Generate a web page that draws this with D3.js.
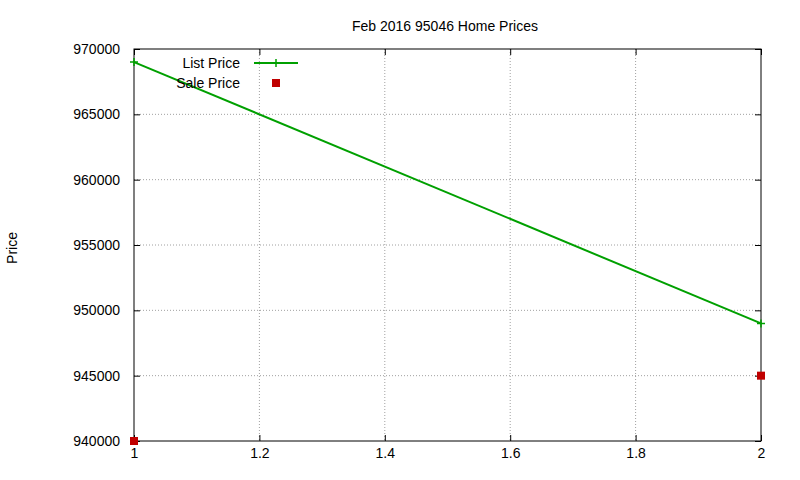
<!DOCTYPE html>
<html><head><meta charset="utf-8">
<script src="https://cdn.jsdelivr.net/npm/d3@7"></script>
<style>body{margin:0;background:#fff}text{font-family:"Liberation Sans",Arial,sans-serif}</style>
</head><body>
<svg id="chart" width="800" height="480"></svg>
<script>
var xVals = [1, 2]
var listPrice = [969000, 949000]
var salePrice = [940000, 945000]
var xTicks = [1, 1.2, 1.4, 1.6, 1.8, 2]
var yTicks = [940000, 945000, 950000, 955000, 960000, 965000, 970000]

var svg = d3.select('#chart')
var pLeft = 134, pRight = 761, pTop = 49, pBottom = 441
var x = d3.scaleLinear().domain([1, 2]).range([pLeft, pRight])
var y = d3.scaleLinear().domain([940000, 970000]).range([pBottom, pTop])

// grid
svg.selectAll('.gx').data(xTicks.slice(1, -1)).enter().append('line')
	.attr('x1', x).attr('x2', x).attr('y1', pTop).attr('y2', pBottom)
	.attr('stroke', '#a0a0a0').attr('stroke-dasharray', '1,2')
svg.selectAll('.gy').data(yTicks.slice(1, -1)).enter().append('line')
	.attr('y1', y).attr('y2', y).attr('x1', pLeft).attr('x2', pRight)
	.attr('stroke', '#a0a0a0').attr('stroke-dasharray', '1,2')

// axes (ticks inward, mirrored)
var xb = svg.append('g').attr('transform', 'translate(0,' + pBottom + ')')
	.call(d3.axisBottom(x).tickValues(xTicks).tickSizeInner(-6).tickSizeOuter(0).tickPadding(14).tickFormat(d3.format('')))
svg.append('g').attr('transform', 'translate(' + pLeft + ',0)')
	.call(d3.axisLeft(y).tickValues(yTicks).tickSizeInner(-6).tickSizeOuter(0).tickPadding(14).tickFormat(d3.format('d')))
svg.append('g').attr('transform', 'translate(0,' + pTop + ')')
	.call(d3.axisTop(x).tickValues(xTicks).tickSizeInner(-6).tickSizeOuter(0).tickFormat(''))
svg.append('g').attr('transform', 'translate(' + pRight + ',0)')
	.call(d3.axisRight(y).tickValues(yTicks).tickSizeInner(-6).tickSizeOuter(0).tickFormat(''))
svg.selectAll('.domain').remove()
svg.selectAll('.tick text').attr('font-size', 14).attr('fill', '#000')
	.style('font-family', '"Liberation Sans",Arial,sans-serif')
svg.selectAll('.tick line').attr('stroke', '#000')
xb.selectAll('.tick text').attr('dy', '0.2em')
svg.append('rect').attr('x', pLeft).attr('y', pTop).attr('width', pRight - pLeft).attr('height', pBottom - pTop)
	.attr('fill', 'none').attr('stroke', '#000')

// list price line
var pts = xVals.map(function(d, i){ return [d, listPrice[i]] })
svg.append('path').datum(pts)
	.attr('d', d3.line().x(function(d){ return x(d[0]) }).y(function(d){ return y(d[1]) }))
	.attr('fill', 'none').attr('stroke', '#00a000').attr('stroke-width', 2)
function plus(g, cx, cy){
	g.append('path').attr('d', 'M' + (cx - 4) + ',' + cy + 'h8M' + cx + ',' + (cy - 4) + 'v8')
		.attr('stroke', '#00a000').attr('stroke-width', 1.5)
}
pts.forEach(function(p){ plus(svg, x(p[0]), y(p[1])) })

// sale price points
svg.selectAll('.sale').data(xVals).enter().append('rect')
	.attr('x', function(d){ return x(d) - 4 }).attr('y', function(d, i){ return y(salePrice[i]) - 4 })
	.attr('width', 8).attr('height', 8).attr('fill', '#c00000')

// legend
svg.append('text').attr('x', 240).attr('y', 68).attr('text-anchor', 'end').attr('font-size', 14).text('List Price')
svg.append('line').attr('x1', 254).attr('x2', 298).attr('y1', 63).attr('y2', 63).attr('stroke', '#00a000').attr('stroke-width', 2)
plus(svg, 276, 63)
svg.append('text').attr('x', 240).attr('y', 88).attr('text-anchor', 'end').attr('font-size', 14).text('Sale Price')
svg.append('rect').attr('x', 272).attr('y', 79).attr('width', 8).attr('height', 8).attr('fill', '#c00000')

// titles
svg.append('text').attr('x', 445).attr('y', 31).attr('text-anchor', 'middle').attr('font-size', 14).text('Feb 2016 95046 Home Prices')
svg.append('text').attr('transform', 'translate(17,248) rotate(-90)').attr('text-anchor', 'middle').attr('font-size', 14).text('Price')
</script>
</body></html>
